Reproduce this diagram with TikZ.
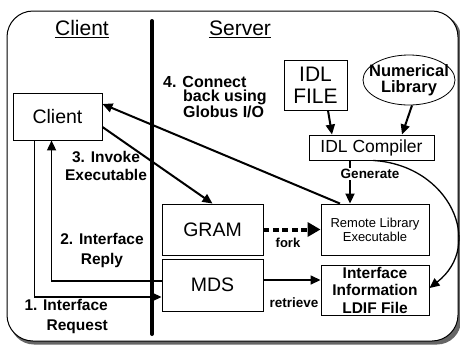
\documentclass[tikz,border=0pt]{standalone}
\usepackage{fontspec}
\setmainfont{Liberation Sans}
\usetikzlibrary{arrows.meta,shapes.geometric}
\begin{document}
\begin{tikzpicture}[x=1pt,y=-1pt,
  box/.style={draw, line width=0.9pt, fill=white, inner sep=0pt, align=center},
  lbl/.style={font=\bfseries\fontsize{15.5}{20}\selectfont, inner sep=0pt, align=center},
  arr/.style={line width=2pt, -{Triangle[length=10pt,width=9pt]}},
  head/.style={font=\fontsize{21}{21}\selectfont, anchor=base, inner sep=0pt},
]
\useasboundingbox (0,0) rectangle (460,346);
% frame with shadow
\fill[black!60, rounded corners=24pt] (10,14) rectangle (461,344.5);
\draw[line width=1pt, fill=white, rounded corners=26pt] (7,11) rectangle (458,341);
% headers
\node[head] (hclient) at (82,35) {Client};
\node[head] (hserver) at (240,35) {Server};
\draw[line width=1.6pt] ([yshift=-2.5pt]hclient.base west) -- ([yshift=-2.5pt]hclient.base east);
\draw[line width=1.6pt] ([yshift=-2.5pt]hserver.base west) -- ([yshift=-2.5pt]hserver.base east);
% separator
\draw[line width=4pt, line cap=round] (152,21) -- (152,334);
% boxes
\node[box, minimum width=89pt, minimum height=47pt, font=\fontsize{19.5}{20}\selectfont] (client) at (57.5,116.5) {Client};
\node[box, minimum width=63pt, minimum height=50pt, font=\fontsize{21}{22}\selectfont] (idlfile) at (315.5,85) {IDL\\FILE};
\node[draw, ellipse, line width=0.8pt, fill=white, minimum width=92pt, minimum height=50pt, inner sep=0pt] (numlib) at (409,80) {};
\node[lbl, font=\bfseries\fontsize{16.5}{16.5}\selectfont] (numlibtext) at (numlib.center) {Numerical\\Library};
\node[box, minimum width=125pt, minimum height=25pt, font=\fontsize{17.5}{18}\selectfont] (compiler) at (371.5,147.5) {IDL Compiler};
\node[box, minimum width=108pt, minimum height=51pt, font=\fontsize{13}{14}\selectfont] (remote) at (375,229.5) {Remote Library\\Executable};
\node[box, minimum width=108pt, minimum height=50pt, font=\bfseries\fontsize{15.5}{17.5}\selectfont] (info) at (375,290) {Interface\\Information\\LDIF File};
\node[box, minimum width=101pt, minimum height=51pt, font=\fontsize{19.5}{20}\selectfont] (gram) at (212.5,229.5) {GRAM};
\node[box, minimum width=101pt, minimum height=52pt, font=\fontsize{19.5}{20}\selectfont] (mds) at (212.5,285) {MDS};
% server-side arrows
\draw[arr] ([xshift=12.5pt]idlfile.south) -- ([xshift=-39.5pt]compiler.north);
\draw[arr] ([xshift=3pt]numlib.south) -- ([xshift=30.5pt]compiler.north);
\draw[arr] ([xshift=-25pt]remote.north |- compiler.south) -- ([xshift=-25pt]remote.north);
\node[lbl, font=\bfseries\fontsize{13.5}{14}\selectfont, fill=white, inner sep=1pt] (gen) at (370,174) {Generate};
\draw[line width=1.3pt, -{Triangle[length=10pt,width=9pt]}] ([xshift=1.5pt]compiler.south) .. controls (450,165) and (485,245) .. ([yshift=2pt]info.east);
\draw[line width=4pt, dash pattern=on 6pt off 3.5pt, -{Triangle[length=13pt,width=14pt]}] (gram.east) -- (remote.west);
\node[lbl, font=\bfseries\fontsize{13}{14}\selectfont] (fork) at (288,243) {fork};
\draw[line width=1.5pt, -{Triangle[length=10pt,width=9pt]}] ([yshift=5pt]mds.east) -- ([yshift=5pt]mds.east -| info.west);
\node[lbl, font=\bfseries\fontsize{13.5}{14}\selectfont] (retr) at (294,303) {retrieve};
% client-server connectors
\draw[line width=1.6pt, -{Triangle[length=10pt,width=9pt]}] ([xshift=22pt]client.south west) |- ([yshift=-12pt]mds.west);
\draw[line width=1.6pt, -{Triangle[length=10pt,width=9pt]}] ([yshift=4pt]mds.west) -| ([xshift=39pt]client.south west);
\draw[arr] ([yshift=-10.5pt]client.east) -- (gram.north);
\draw[arr] ([xshift=-35pt]remote.north) -- ([yshift=12.5pt]client.east);
% labels
\node[lbl, font=\bfseries\fontsize{16}{14.5}\selectfont, align=left, anchor=north west] (l4) at (163,76) {4. Connect\\\hspace*{20pt}back using\\\hspace*{20pt}Globus I/O};
\node[lbl, font=\bfseries\fontsize{15.5}{18}\selectfont] (l3) at (106,166) {3. Invoke\\Executable};
\node[lbl] (l2) at (102,250) {2. Interface\\Reply};
\node[lbl, align=right, anchor=east] (l1) at (108,316) {1. Interface\\Request};
\end{tikzpicture}
\end{document}
